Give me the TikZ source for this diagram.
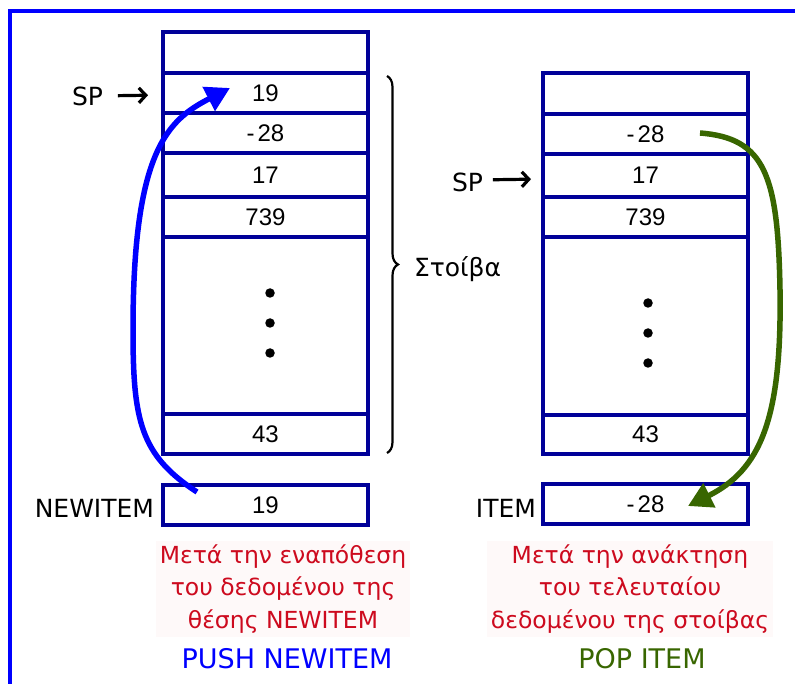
\documentclass[tikz,border=0pt]{standalone}
\usepackage{fontspec}
\setmainfont{DejaVu Sans}
\newfontfamily\numfont{Liberation Sans}
\usetikzlibrary{arrows.meta,decorations.pathreplacing}
\definecolor{navy}{RGB}{0,0,153}
\definecolor{frameblue}{RGB}{0,0,255}
\definecolor{popgreen}{RGB}{56,102,0}
\definecolor{capred}{RGB}{205,10,30}
\definecolor{capbg}{RGB}{254,249,249}
\begin{document}
\begin{tikzpicture}[x=1pt,y=-1pt,
  cell/.style={draw=navy,line width=3.6pt,minimum width=205pt,inner sep=0pt,outer sep=0pt,
    font=\numfont\fontsize{24pt}{24pt}\selectfont},
  lbl/.style={font=\fontsize{25pt}{25pt}\selectfont,inner sep=0pt,outer sep=0pt},
  spar/.style={line width=3.2pt,-{Straight Barb[length=7pt,width=15pt,line width=3.2pt]}},
  flow/.style={line width=5.5pt,-{Triangle[length=24pt,width=26pt]}},
  caption/.style={font=\fontsize{23.5pt}{32.5pt}\selectfont,text=capred,fill=capbg,align=center,inner sep=4pt},
  title/.style={font=\fontsize{27pt}{27pt}\selectfont,inner sep=0pt},
  dot/.style={circle,fill=black,inner sep=0pt,minimum size=9.5pt}
]
\useasboundingbox (0,0) rectangle (795,684);
% frame
\draw[frameblue,line width=4pt] (10,700) -- (10,11) -- (810,11);

% left stack
\node[cell,minimum height=41pt] (L0) at (265.5,52.5) {};
\node[cell,minimum height=40pt] (L1) at (265.5,93) {19};
\node[cell,minimum height=40pt] (L2) at (265.5,133) {-\hspace{3pt}28};
\node[cell,minimum height=44pt] (L3) at (265.5,175) {17};
\node[cell,minimum height=40pt] (L4) at (265.5,217) {739};
\node[cell,minimum height=177pt] (L5) at (265.5,325.5) {};
\node[cell,minimum height=40pt] (L6) at (265.5,434) {43};
\node[cell,minimum height=40pt] (NI) at (265.5,505) {19};
\node[dot] (ld1) at (270,293) {};
\node[dot] (ld2) at (270,323) {};
\node[dot] (ld3) at (270,353) {};

% right stack
\node[cell,minimum height=41pt] (R0) at (645.5,93.5) {};
\node[cell,minimum height=40pt] (R1) at (645.5,134) {-\hspace{3pt}28};
\node[cell,minimum height=43pt] (R2) at (645.5,175.5) {17};
\node[cell,minimum height=40pt] (R3) at (645.5,217) {739};
\node[cell,minimum height=178pt] (R4) at (645.5,326) {};
\node[cell,minimum height=39pt] (R5) at (645.5,434.5) {43};
\node[cell,minimum height=40pt] (IT) at (645.5,504) {-\hspace{3pt}28};
\node[dot] (rd1) at (648,303) {};
\node[dot] (rd2) at (648,333) {};
\node[dot] (rd3) at (648,363) {};

% labels
\node[lbl,anchor=base] (sp1) at (87.5,106) {SP};
\node[lbl,anchor=base] (sp2) at (467.5,192) {SP};
\draw[spar,shorten <=15pt,shorten >=15pt] (sp1.east) ++(0,-1) -- (L1.west |- {(0,95)});
\draw[spar,shorten <=10pt,shorten >=12pt] (sp2.east) ++(0,-3) -- (R2.west |- {(0,179)});
\node[lbl,anchor=base east] (newitem) at (154,517) {NEWITEM};
\node[lbl,anchor=base east] (item) at (536,517) {ITEM};

% brace
\draw[line width=2.2pt,decorate,decoration={brace,amplitude=11pt}] (387,76) -- (387,453);
\node[lbl,anchor=base west] (stoiba) at (414,277) {Στοίβα};

% arrows
\draw[flow,frameblue] ([xshift=34pt,yshift=-7pt]NI.north west)
  .. controls (140,455) and (133,420) .. (133,330)
  .. controls (133,150) and (168,120) .. ([xshift=67pt,yshift=-15pt]L1.north west);
\draw[flow,popgreen] ([xshift=54.5pt,yshift=1pt]R1.center)
  .. controls (765,138) and (778,175) .. (780,290)
  .. controls (782,420) and (760,470) .. ([xshift=42.5pt,yshift=-2pt]IT.center);

% captions
\node[caption] (capL) at (283,589) {Μετά την εναπόθεση\\του δεδομένου της\\θέσης NEWITEM};
\node[caption] (capR) at (630,589) {Μετά την ανάκτηση\\του τελευταίου\\δεδομένου της στοίβας};
\node[title,text=frameblue,anchor=base] (push) at (287,668) {PUSH NEWITEM};
\node[title,text=popgreen,anchor=base] (pop) at (642,668) {POP ITEM};
\end{tikzpicture}
\end{document}
